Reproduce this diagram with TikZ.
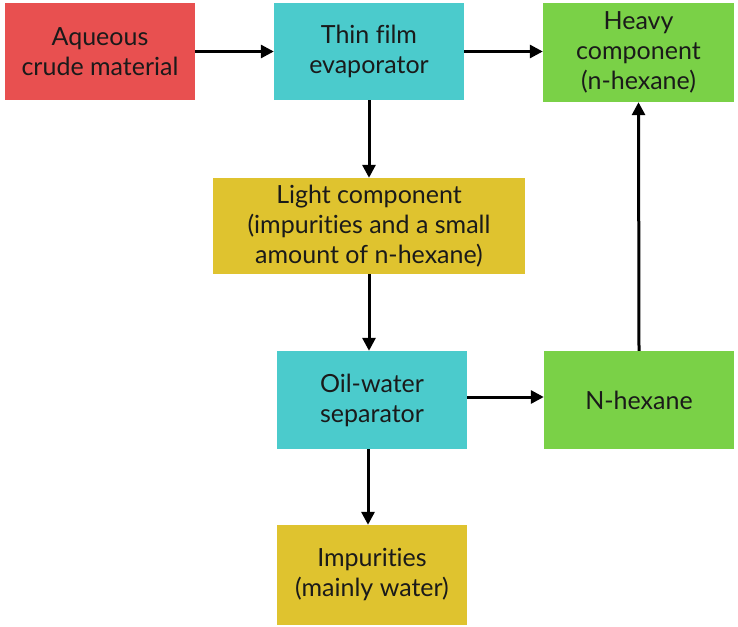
\documentclass[tikz,border=0pt]{standalone}
\usepackage{fontspec}
\setmainfont[Ligatures={NoCommon}]{Lato}
\usetikzlibrary{arrows.meta}
\definecolor{cred}{HTML}{E85050}
\definecolor{ccyan}{HTML}{4BCBCC}
\definecolor{cgreen}{HTML}{7AD147}
\definecolor{cyel}{HTML}{DFC32F}
\definecolor{ctext}{HTML}{1A1A1A}
\tikzset{
  box/.style={inner sep=0pt, align=center, text=ctext,
    font=\fontsize{25}{30}\selectfont},
  conn/.style={line width=3pt, -{Triangle[length=13pt,width=13pt]}}
}
\begin{document}
\begin{tikzpicture}[x=1pt,y=-1pt]
\useasboundingbox (0,0) rectangle (738,626);
\node[box, fill=cred, minimum width=190pt, minimum height=97pt] (b1) at (100,51.5) {Aqueous\\crude material};
\node[box, fill=ccyan, minimum width=190pt, minimum height=97pt] (b2) at (369,51.5) {Thin film\\evaporator};
\node[box, fill=cgreen, minimum width=191pt, minimum height=99pt] (b3) at (638.5,52.5) {Heavy\\component\\(n-hexane)};
\node[box, fill=cyel, minimum width=312pt, minimum height=96pt] (b4) at (369,226) {Light component\\(impurities and a small\\amount of n-hexane)};
\node[box, fill=ccyan, minimum width=190pt, minimum height=98pt] (b5) at (372,400) {Oil-water\\separator};
\node[box, fill=cgreen, minimum width=190pt, minimum height=98pt] (b6) at (639,400) {N-hexane};
\node[box, fill=cyel, minimum width=190pt, minimum height=100pt] (b7) at (372,575) {Impurities\\(mainly water)};
\draw[conn] (b1.east) -- (b2.west);
\draw[conn] (b2.east) -- (b3.west |- b2.east);
\draw[conn] (b2.south) -- (b4.north);
\draw[conn] (b4.south) -- (b4.south |- b5.north);
\draw[conn] (b5.east |- 0,397) -- (b6.west |- 0,397);
\draw[conn] (b6.north) -- (b3.south);
\draw[conn] (b5.south -| 368,0) -- (b7.north -| 368,0);
\end{tikzpicture}
\end{document}
